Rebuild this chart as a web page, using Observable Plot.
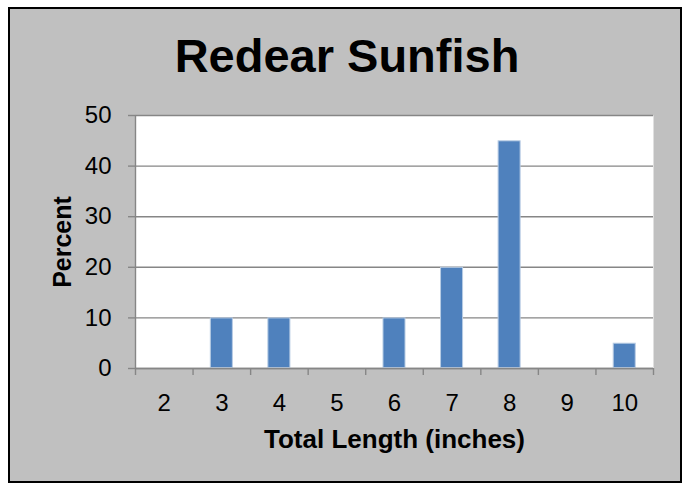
<!DOCTYPE html>
<html>
<head>
<meta charset="utf-8">
<script src="https://cdn.jsdelivr.net/npm/d3@7"></script>
<script src="https://cdn.jsdelivr.net/npm/@observablehq/plot@0.6"></script>
<style>
  html, body { margin: 0; padding: 0; background: #ffffff; width: 685px; height: 487px; overflow: hidden; }
  #frame {
    position: absolute; left: 8px; top: 7px; width: 674px; height: 476px;
    box-sizing: border-box; border: 2px solid #000; background: #c0c0c0;
  }
  #title {
    position: absolute; left: 0; top: 32px; width: 694px; text-align: center;
    font-family: "Liberation Sans", Arial, sans-serif; font-weight: bold;
    font-size: 47px; line-height: 47px; color: #000;
  }
  #chart { position: absolute; left: 0; top: 90px; }
</style>
</head>
<body>
<div id="frame"></div>
<div id="title">Redear Sunfish</div>
<div id="chart"></div>
<script>
// Data
const lengths = [2, 3, 4, 5, 6, 7, 8, 9, 10];        // Total length (inches)
const percents = [0, 10, 10, 0, 10, 20, 45, 0, 5];   // Percent
const yTicks = [0, 10, 20, 30, 40, 50];
const xLabel = "Total Length (inches)";
const yLabel = "Percent";

const data = lengths.map((len, i) => ({len, pct: percents[i]}));
const boundaries = [...lengths.map(l => l - 0.5), lengths[lengths.length - 1] + 0.5];
const half = 0.2; // half bar width in category units

const gray = "#868686";

const chart = Plot.plot({
  width: 685,
  height: 390,
  marginTop: 25,
  marginLeft: 135,
  marginRight: 32,
  marginBottom: 112,
  style: {
    fontFamily: "'Liberation Sans', Arial, sans-serif",
    fontSize: "24px",
    background: "transparent",
    color: "#000",
    overflow: "visible"
  },
  x: {domain: [boundaries[0], boundaries[boundaries.length - 1]]},
  y: {domain: [yTicks[0], yTicks[yTicks.length - 1]]},
  marks: [
    Plot.frame({fill: "#ffffff", stroke: null}),
    Plot.gridY(yTicks, {stroke: gray, strokeOpacity: 1, strokeWidth: 1.4}),
    Plot.rect(data, {
      x1: d => d.len - half, x2: d => d.len + half, y1: 0, y2: "pct",
      fill: "#4f81bd", stroke: "#b8cce4", strokeWidth: 1, inset: 0.5
    }),
    Plot.ruleY([yTicks[0]], {stroke: gray, strokeWidth: 1.4}),
    Plot.ruleX([boundaries[0]], {stroke: gray, strokeWidth: 1.4}),
    Plot.axisY({ticks: yTicks, tickSize: 7, tickPadding: 17, stroke: gray, strokeWidth: 1.4, fill: "#000", label: null}),
    Plot.axisX({ticks: boundaries, tickSize: 7, tickFormat: () => "", stroke: gray, strokeWidth: 1.4, label: null}),
    Plot.axisX({ticks: lengths, tickSize: 0, tickPadding: 25, fill: "#000", label: null, tickFormat: d => String(d)}),
    Plot.text([xLabel], {frameAnchor: "bottom", text: d => d, dy: 71, lineAnchor: "middle", textAnchor: "middle",
      fontWeight: "bold", fontSize: 26, fill: "#000"}),
    Plot.text([yLabel], {frameAnchor: "left", text: d => d, dx: -73, rotate: -90, lineAnchor: "middle", textAnchor: "middle",
      fontWeight: "bold", fontSize: 25, fill: "#000"})
  ]
});
document.getElementById("chart").appendChild(chart);
</script>
</body>
</html>
